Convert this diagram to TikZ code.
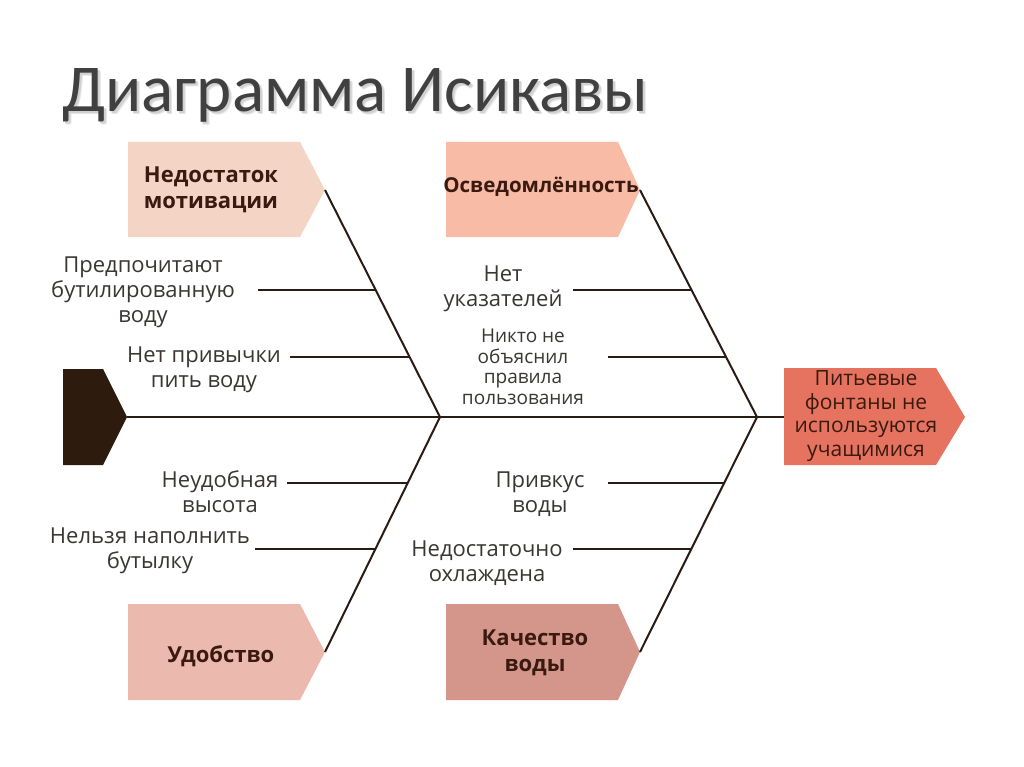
\documentclass[tikz,border=0pt]{standalone}
\usepackage{fontspec}
\setmainfont{Open Sans}
\newfontfamily\titlefont{Carlito}
\usetikzlibrary{calc}
\definecolor{boxA}{HTML}{F4D4C4}
\definecolor{boxB}{HTML}{F7BBA6}
\definecolor{boxC}{HTML}{ECB9AF}
\definecolor{boxD}{HTML}{D4968B}
\definecolor{headc}{HTML}{E5735F}
\definecolor{tailc}{HTML}{2D1B0E}
\definecolor{linec}{HTML}{2A1C14}
\definecolor{labelc}{HTML}{3A3633}
\definecolor{boxtext}{HTML}{3A1A10}
\definecolor{titlec}{HTML}{404040}
\begin{document}
\begin{tikzpicture}[x=1pt,y=-1pt,
  bone/.style={draw=linec,line width=2pt},
  lbl/.style={text=labelc,align=center,inner sep=0pt,font=\fontsize{22}{25}\selectfont},
  small/.style={text=labelc,align=center,inner sep=0pt,font=\fontsize{19}{20.5}\selectfont},
  cat/.style={text=boxtext,align=center,inner sep=0pt,font=\bfseries\fontsize{22}{26}\selectfont},
  headtext/.style={text=boxtext,align=center,inner sep=0pt,font=\fontsize{21}{23.5}\selectfont},
  ttl/.style={anchor=base west,inner sep=0pt,font=\titlefont\fontsize{67}{67}\selectfont}]
\useasboundingbox (0,0) rectangle (1024,767);
\fill[white] (0,0) rectangle (1024,767);
% title with soft shadow
\node[ttl,text=black!10] at (65,115) {Диаграмма Исикавы};
\node[ttl,text=black!18] at (64,114) {Диаграмма Исикавы};
\node[ttl,text=titlec] (title) at (62,112) {Диаграмма Исикавы};
% shapes
\fill[boxA] (128,142)--(300,142)--(325,190)--(300,237)--(128,237)--cycle;
\fill[boxB] (446,142)--(618,142)--(640,190)--(618,237)--(446,237)--cycle;
\fill[boxC] (128,604)--(300,604)--(325,652)--(300,700)--(128,700)--cycle;
\fill[boxD] (446,604)--(618,604)--(640,652)--(618,700)--(446,700)--cycle;
\fill[tailc] (63,369)--(103,369)--(127,417)--(103,465)--(63,465)--cycle;
\fill[headc] (784,368)--(936,368)--(965,417)--(936,465)--(784,465)--cycle;
% coordinates
\coordinate (tail) at (127,417);
\coordinate (headL) at (784,417);
\coordinate (tA) at (325,190);
\coordinate (tB) at (640,190);
\coordinate (tC) at (325,652);
\coordinate (tD) at (640,652);
\coordinate (jL) at (440,417);
\coordinate (jR) at (757,417);
% category texts
\node[cat] (catA) at (211,190) {Недостаток\\мотивации};
\node[cat,font=\bfseries\fontsize{20.5}{24}\selectfont] (catB) at (541,187) {Осведомлённость};
\node[cat] (catC) at (221,656) {Удобство};
\node[cat] (catD) at (535,653) {Качество\\воды};
\node[headtext] (head) at (866,416) {Питьевые\\фонтаны не\\используются\\учащимися};
% spine and bones
\draw[bone] (tail) -- (headL);
\draw[bone] (tA) -- (jL);
\draw[bone] (jL) -- (tC);
\draw[bone] (tB) -- (jR);
\draw[bone] (jR) -- (tD);
% sub-bone ends
\coordinate (a1s) at (258,290); \coordinate (a1e) at (376,290);
\coordinate (a2s) at (290,357); \coordinate (a2e) at (409,357);
\coordinate (c1s) at (287,483); \coordinate (c1e) at (408,483);
\coordinate (c2s) at (255,549); \coordinate (c2e) at (375,549);
\coordinate (b1s) at (573,290); \coordinate (b1e) at (692,290);
\coordinate (b2s) at (608,357); \coordinate (b2e) at (726,357);
\coordinate (d1s) at (608,483); \coordinate (d1e) at (724,483);
\coordinate (d2s) at (573,549); \coordinate (d2e) at (691,549);
\draw[bone] (a1s) -- (a1e);
\draw[bone] (a2s) -- (a2e);
\draw[bone] (c1s) -- (c1e);
\draw[bone] (c2s) -- (c2e);
\draw[bone] (b1s) -- (b1e);
\draw[bone] (b2s) -- (b2e);
\draw[bone] (d1s) -- (d1e);
\draw[bone] (d2s) -- (d2e);
% labels
\node[lbl] (la1) at (143,292) {Предпочитают\\бутилированную\\воду};
\node[lbl] (la2) at (204,370) {Нет привычки\\пить воду};
\node[lbl] (lc1) at (220,492) {Неудобная\\высота};
\node[lbl] (lc2) at (150,551) {Нельзя наполнить\\бутылку};
\node[lbl] (lb1) at (503,289) {Нет\\указателей};
\node[small] (lb2) at (523,367) {Никто не\\объяснил\\правила\\пользования};
\node[lbl] (ld1) at (540,494) {Привкус\\воды};
\node[lbl] (ld2) at (487,563) {Недостаточно\\охлаждена};
\end{tikzpicture}
\end{document}
